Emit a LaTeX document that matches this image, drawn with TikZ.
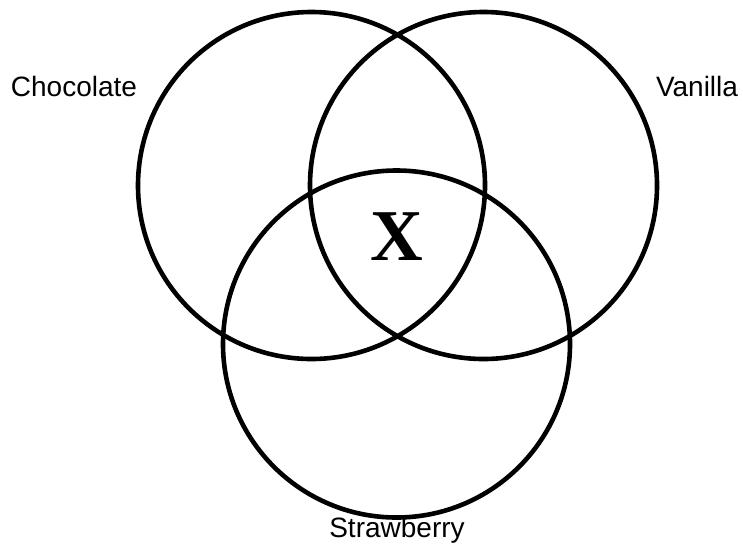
\documentclass[tikz,border=0pt]{standalone}
\usepackage{fontspec}
\setmainfont{Liberation Sans}
\newfontfamily\xserif{Liberation Serif}
\usetikzlibrary{positioning}

\begin{document}
\begin{tikzpicture}[
        x=1pt, y=-1pt,
        flavour/.style={draw, circle, line width=4.6pt, minimum size=347pt, inner sep=0pt},
        lbl/.style={font=\fontsize{28}{31}\selectfont, anchor=base, inner sep=0pt}
    ]
        \useasboundingbox (0,0) rectangle (743,544);

        \node[flavour] (choc)  at (311.5,185.5) {};
        \node[flavour] (van)   at (483.5,185.5) {};
        \node[flavour] (straw) at (396.5,344)   {};

        \node[lbl] (chocl)  at (74,96)   {Chocolate};
        \node[lbl] (vanl)   at (697,96)  {Vanilla};
        \node[lbl] (strawl) at (397,537) {Strawberry};

        \node[font=\xserif\bfseries\fontsize{73}{78}\selectfont, anchor=base, inner sep=0pt]
            (mid) at (397,260) {X};
    \end{tikzpicture}
\end{document}
